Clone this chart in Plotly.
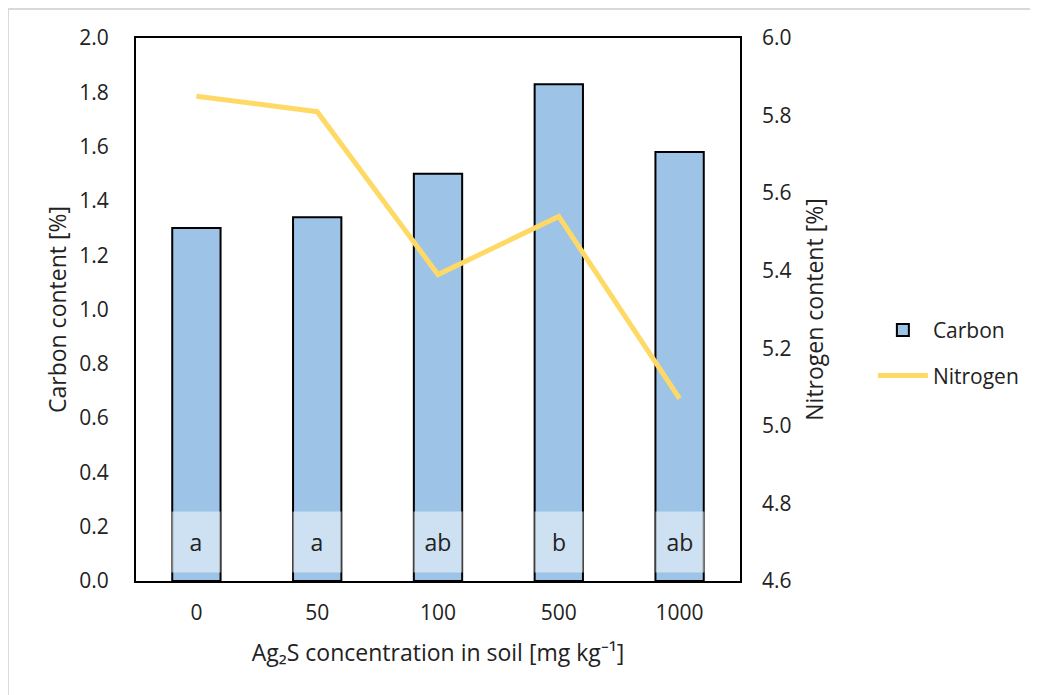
import plotly.graph_objects as go

categories = ["0", "50", "100", "500", "1000"]
carbon = [1.30, 1.34, 1.50, 1.83, 1.58]
nitrogen = [5.85, 5.81, 5.39, 5.54, 5.07]
letters = ["a", "a", "ab", "b", "ab"]
letter_y = 0.1436

FONT = "Open Sans"
fig = go.Figure()
fig.add_trace(go.Bar(x=categories, y=carbon, name="Carbon", width=0.4,
                     marker=dict(color="#9DC3E6", line=dict(color="black", width=2)),
                     legendgroup="c"))
fig.add_trace(go.Scatter(x=categories, y=nitrogen, name="Nitrogen", yaxis="y2",
                         mode="lines", line=dict(color="#FFD966", width=5),
                         legendgroup="n"))

for i, l in enumerate(letters):
    fig.add_annotation(x=i, y=letter_y, xref="x", yref="y", text=l, showarrow=False,
                       width=48, height=60, borderpad=0, bgcolor="rgba(255,255,255,0.5)",
                       font=dict(family=FONT, size=23, color="#222"))

# outer light border
fig.add_shape(type="rect", xref="paper", yref="paper", x0=-0.212, x1=1.6, y0=-0.3, y1=1.0534,
              line=dict(color="#D9D9D9", width=2), layer="below")

fig.update_layout(
    width=1038, height=695,
    margin=dict(l=128, r=306, t=30, b=122),
    plot_bgcolor="white", paper_bgcolor="white",
    font=dict(family=FONT, size=21, color="#222"),
    bargap=0.6,
    xaxis=dict(type="category", range=[-0.5, 4.5], showline=True, linecolor="black",
               linewidth=2, mirror=True, ticks="", ticklabelstandoff=12,
               title=dict(text="Ag₂S concentration in soil [mg kg⁻¹]", standoff=20,
                          font=dict(size=23))),
    yaxis=dict(range=[0, 2.0], dtick=0.2, tickformat=".1f", showgrid=False, zeroline=False,
               showline=True, linecolor="black", linewidth=2, mirror=True,
               ticks="", ticklabelstandoff=21,
               title=dict(text="Carbon content [%]", standoff=6, font=dict(size=23))),
    yaxis2=dict(range=[4.6, 6.0], dtick=0.2, tickformat=".1f", overlaying="y", side="right",
                showgrid=False, zeroline=False, ticks="", ticklabelstandoff=21,
                title=dict(text="Nitrogen content [%]", standoff=16, font=dict(size=23))),
    legend=dict(x=1.22, y=0.42, xanchor="left", yanchor="middle", font=dict(size=21),
                tracegroupgap=15, traceorder="grouped", itemwidth=50),
)

fig.write_html("out.html")
